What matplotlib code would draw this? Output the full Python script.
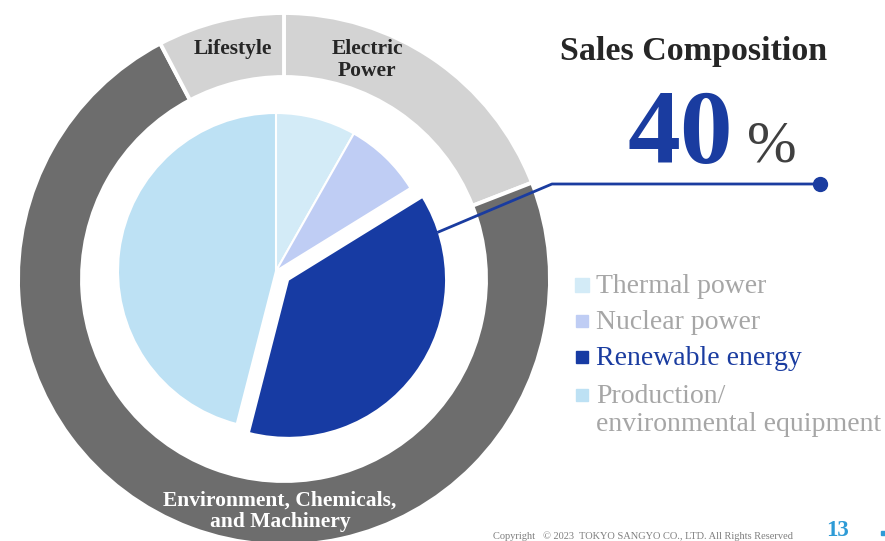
import numpy as np
import matplotlib
matplotlib.use("Agg")
import matplotlib.pyplot as plt

# -------------------------
# Data
# -------------------------
segments = ["Electric\nPower", "Environment, Chemicals,\nand Machinery", "Lifestyle"]
segment_share = [19.1, 73.2, 7.7]

fields = ["Thermal power", "Nuclear power", "Renewable energy",
          "Production/\nenvironmental equipment"]
field_share = [8.2, 8.0, 37.8, 46.0]

headline_value = "40"

# -------------------------
# Styling
# -------------------------
W, H = 885, 541
ring_colors = ["#d3d3d3", "#6d6d6d", "#d3d3d3"]
field_colors = ["#d3ebf7", "#bfcdf4", "#173ba3", "#bde1f4"]
blue = "#1a3ca0"
grey_txt = "#a6a6a6"
dark_txt = "#262626"
serif = "Liberation Serif"

fig = plt.figure(figsize=(W / 100, H / 100), dpi=100)
ax = fig.add_axes([0, 0, 1, 1])

ring_center = (284, H - 279)
pie_center = (276, H - 271)

# outer ring: business segments
ring, _ = ax.pie(segment_share, radius=266, center=ring_center, startangle=90,
                 counterclock=False, colors=ring_colors,
                 wedgeprops=dict(width=64, edgecolor="white", linewidth=2.8))

# inner pie: electric power breakdown, renewable pulled out
inner, _ = ax.pie(field_share, radius=158, center=pie_center, startangle=90,
                  counterclock=False, colors=field_colors,
                  explode=[0, 0, 15, 0],
                  wedgeprops=dict(edgecolor="white", linewidth=1.5))

ax.set_xlim(0, W)
ax.set_ylim(0, H)
ax.set_aspect("equal")
ax.axis("off")

# ring labels
ax.text(233, H - 49, segments[2], ha="center", va="center", family=serif,
        fontsize=15.5, fontweight="bold", color=dark_txt)
ax.text(367, H - 60, segments[0], ha="center", va="center", family=serif,
        fontsize=15.5, fontweight="bold", color=dark_txt, linespacing=1.12)
ax.text(280, H - 511, segments[1], ha="center", va="center", family=serif,
        fontsize=15.5, fontweight="bold", color="white", linespacing=1.12)

# leader line from renewable wedge to the headline
w = inner[2]
ang = np.deg2rad(w.theta2 - 14)
x0 = w.center[0] + w.r * np.cos(ang)
y0 = w.center[1] + w.r * np.sin(ang)
ax.plot([x0, 552, 820], [y0, H - 184, H - 184], color=blue, lw=2.0,
        solid_joinstyle="round")
ax.plot([820], [H - 184], "o", color=blue, markersize=10)

# headline
ax.text(694, H - 60, "Sales Composition", ha="center", va="baseline",
        family=serif, fontsize=24.5, fontweight="bold", color=dark_txt)
ax.text(680, H - 163, headline_value, ha="center", va="baseline",
        family=serif, fontsize=76, fontweight="bold", color=blue)
ax.text(747, H - 161, "%", ha="left", va="baseline", family=serif,
        fontsize=43, color="#404040")

# legend
leg_y = [285, 321, 357, 395]
for i, (name, c) in enumerate(zip(fields, field_colors)):
    y = H - leg_y[i]
    ax.plot([582], [y], "s", color=c, markersize=8 if i else 9.5)
    tc = blue if i == 2 else grey_txt
    ax.text(596, y + 11, name, ha="left", va="top", family=serif,
            fontsize=20, color=tc, linespacing=1.15)

# footer
ax.text(793, H - 536, "Copyright   \u00a9 2023  TOKYO SANGYO CO., LTD. All Rights Reserved",
        ha="right", va="center", family=serif, fontsize=7.5, color="#7f7f7f")
ax.text(838, H - 531, "13", ha="center", va="center", family=serif,
        fontsize=16.5, fontweight="bold", color="#2e9bd6")
ax.plot([883], [H - 533], "s", color="#2e9bd6", markersize=3)

fig.savefig("out.png", dpi=100)
